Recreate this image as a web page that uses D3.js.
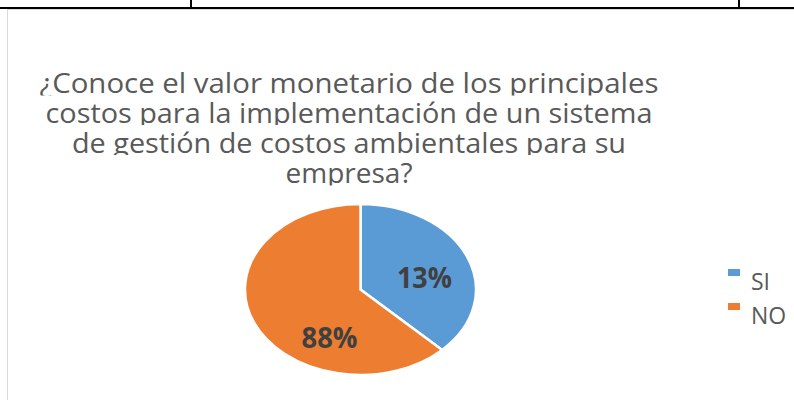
<!DOCTYPE html>
<html><head><meta charset="utf-8">
<script src="https://cdn.jsdelivr.net/npm/d3@7"></script>
<style>html,body{margin:0;padding:0;background:#fff;}svg{display:block;}</style>
</head><body>
<script>
const categories = ["SI", "NO"];
const sliceValues = [3, 5];
const labelTexts = ["13%", "88%"];
const titleLines = [
  "¿Conoce el valor monetario de los principales",
  "costos para la implementación de un sistema",
  "de gestión de costos ambientales para su",
  "empresa?"
];
const colors = ["#5B9BD5", "#ED7D31"];

const W = 794, H = 400;
const svg = d3.select("body").append("svg").attr("width", W).attr("height", H);

// document table lines + chart frame
svg.append("rect").attr("x", 0).attr("y", 7).attr("width", W).attr("height", 2).attr("fill", "#000");
[191, 739].forEach(x => svg.append("rect").attr("x", x - 1).attr("y", 0).attr("width", 2).attr("height", 8).attr("fill", "#000"));
svg.append("line").attr("x1", 7).attr("x2", W).attr("y1", 9.5).attr("y2", 9.5).attr("stroke", "#d9d9d9").attr("stroke-width", 1);
svg.append("line").attr("x1", 7.5).attr("x2", 7.5).attr("y1", 9).attr("y2", H).attr("stroke", "#d9d9d9").attr("stroke-width", 1);

// title
const titleCX = 349;
const baselines = [93, 122.5, 152.5, 183];
const widths = [619, 607, 554, 127];
const defs = svg.append("defs");
titleLines.forEach((t, i) => {
  defs.append("clipPath").attr("id", "tc" + i).append("rect")
    .attr("x", 0).attr("y", baselines[i] - 32).attr("width", W).attr("height", 34.5);
  svg.append("text")
    .attr("clip-path", `url(#tc${i})`)
    .attr("x", titleCX).attr("y", baselines[i])
    .attr("text-anchor", "middle")
    .attr("font-family", "'Open Sans', sans-serif")
    .attr("font-size", 28)
    .attr("fill", "#595959")
    .attr("textLength", widths[i])
    .attr("lengthAdjust", "spacingAndGlyphs")
    .text(t);
});

// pie
const cx = 360.5, cy = 289.5, rx = 115.5, ry = 85.5;
const pie = d3.pie().sort(null).value(d => d)(sliceValues);
const arc = d3.arc().innerRadius(0).outerRadius(rx);
const g = svg.append("g").attr("transform", `translate(${cx},${cy}) scale(1,${ry / rx})`);
g.selectAll("path").data(pie).join("path")
  .attr("d", arc)
  .attr("fill", (d, i) => colors[i])
  .attr("stroke", "#fff")
  .attr("stroke-width", 2.5)
  .attr("vector-effect", "non-scaling-stroke");

// data labels (normalized offsets within the ellipse)
const labelPos = [[0.554, -0.02], [-0.268, 0.685]];
const labelW = [55, 56];
labelTexts.forEach((t, i) => {
  svg.append("text")
    .attr("x", cx + labelPos[i][0] * rx)
    .attr("y", cy + labelPos[i][1] * ry)
    .attr("text-anchor", "middle")
    .attr("font-family", "'Open Sans', sans-serif")
    .attr("font-weight", "bold")
    .attr("font-size", 28)
    .attr("fill", "#404040")
    .attr("textLength", labelW[i])
    .attr("lengthAdjust", "spacingAndGlyphs")
    .text(t);
});

// legend
const legendY = d3.scaleBand().domain(categories).range([264, 332]).padding(0);
categories.forEach((c, i) => {
  const y = legendY(c) + legendY.bandwidth() / 2;
  svg.append("rect").attr("x", 728).attr("y", y - 12).attr("width", 12).attr("height", 7).attr("fill", colors[i]);
  svg.append("text").attr("x", 751).attr("y", y + 9)
    .attr("font-family", "'Open Sans', sans-serif").attr("font-size", 23)
    .attr("fill", "#595959").text(c);
});
</script>
</body></html>
